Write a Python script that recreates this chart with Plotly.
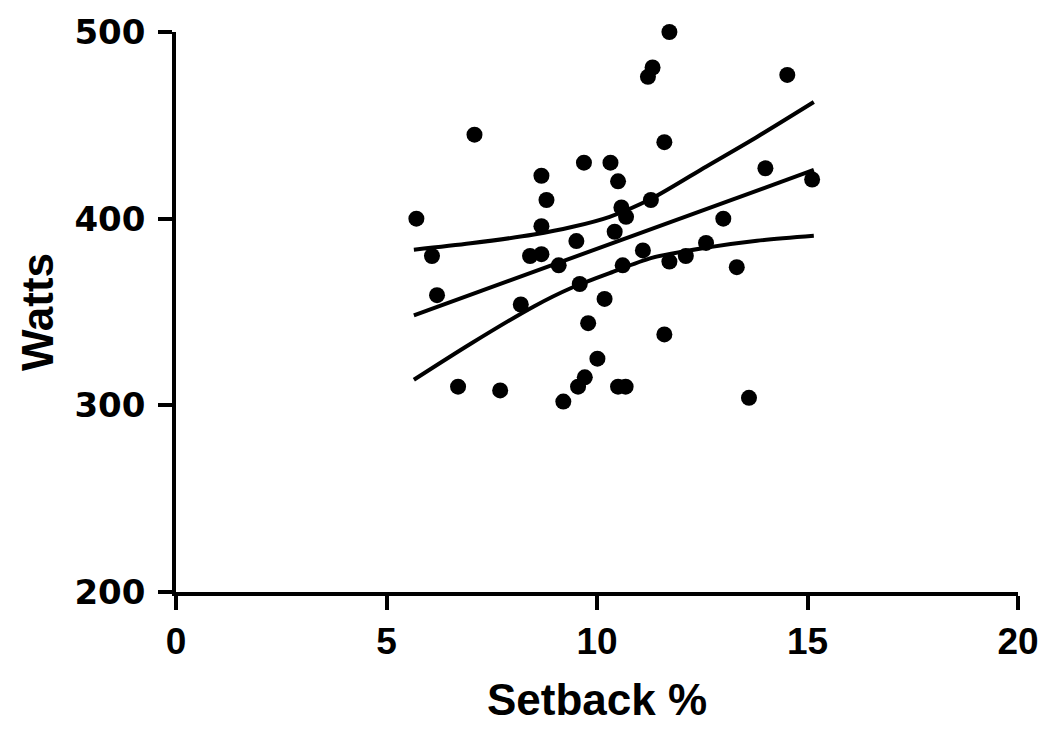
import plotly.graph_objects as go

# Setback (%) and power (W) for each rider
setback_pct = [5.71, 6.08, 6.20, 6.70, 7.09, 7.70, 8.19, 8.41, 8.68, 8.68,
               8.80, 8.68, 9.09, 9.51, 9.69, 10.32, 10.50, 10.58, 10.69, 10.42,
               9.59, 10.18, 9.79, 10.01, 9.71, 9.55, 9.20, 10.50, 10.68, 10.61,
               11.72, 11.32, 11.21, 14.52, 11.60, 14.00, 15.11, 11.28, 13.00, 11.09,
               11.72, 12.11, 12.59, 13.32, 11.60, 13.61]
watts = [400, 380, 359, 310, 445, 308, 354, 380, 381, 396,
         410, 423, 375, 388, 430, 430, 420, 406, 401, 393,
         365, 357, 344, 325, 315, 310, 302, 310, 310, 375,
         500, 481, 476, 477, 441, 427, 421, 410, 400, 383,
         377, 380, 387, 374, 338, 304]

# Linear regression line and its 95% confidence limits
fit_mid_x = [5.65, 15.15]
fit_mid = [348.2, 426.1]
band_x = [5.65, 7.0, 8.5, 9.4, 10.3, 11.3, 12.6, 13.8, 15.15]
band_upper = [383.4, 386.8, 391.5, 395.5, 401.0, 410.8, 428.0, 443.8, 462.5]
band_lower = [313.7, 333.0, 353.0, 363.0, 370.8, 379.0, 384.5, 388.2, 390.8]

x_ticks = [0, 5, 10, 15, 20]
y_ticks = [200, 300, 400, 500]

line_style = dict(color="black", width=4, shape="spline", smoothing=0.8)
fig = go.Figure()
fig.add_trace(go.Scatter(x=band_x, y=band_upper, mode="lines", line=line_style, hoverinfo="skip"))
fig.add_trace(go.Scatter(x=fit_mid_x, y=fit_mid, mode="lines",
                         line=dict(color="black", width=4), hoverinfo="skip"))
fig.add_trace(go.Scatter(x=band_x, y=band_lower, mode="lines", line=line_style, hoverinfo="skip"))
fig.add_trace(go.Scatter(x=setback_pct, y=watts, mode="markers", cliponaxis=False,
                         marker=dict(color="black", size=16, line=dict(width=0))))

fig.update_layout(
    width=1051, height=731,
    margin=dict(l=176, r=27, t=28, b=139, pad=0),
    paper_bgcolor="white", plot_bgcolor="white",
    showlegend=False,
)
fig.update_xaxes(
    range=[0, 20], tickvals=x_ticks, ticktext=[str(v) for v in x_ticks],
    showgrid=False, zeroline=False,
    showline=True, linecolor="black", linewidth=3.5,
    ticks="outside", ticklen=14, tickwidth=3.5, tickcolor="black",
    tickfont=dict(family="Liberation Sans", size=37, color="black", weight="bold"),
    ticklabelstandoff=0,
    title=dict(text="Setback %", standoff=24,
               font=dict(family="Liberation Sans", size=44, color="black", weight="bold")),
)
fig.update_yaxes(
    range=[200, 500], tickvals=y_ticks, ticktext=[str(v) for v in y_ticks],
    showgrid=False, zeroline=False,
    showline=True, linecolor="black", linewidth=3.5,
    ticks="outside", ticklen=14, tickwidth=3.5, tickcolor="black",
    tickfont=dict(family="DejaVu Sans", size=34, color="black", weight="bold"),
    ticklabelstandoff=6,
    title=dict(text="Watts", standoff=8,
               font=dict(family="Liberation Sans", size=44, color="black", weight="bold")),
)

fig.write_html("out.html")
